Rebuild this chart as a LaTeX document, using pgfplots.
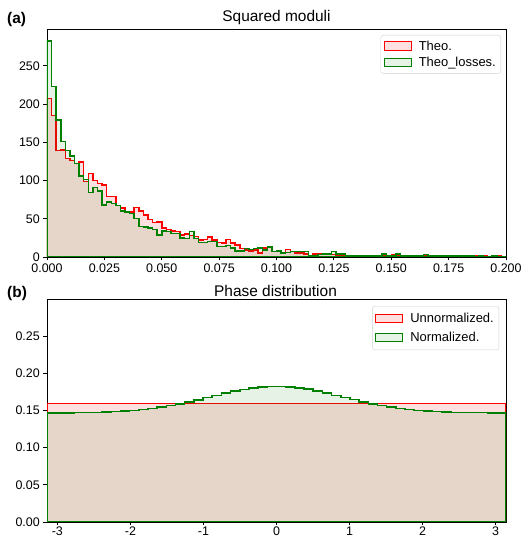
\documentclass[border=0pt]{standalone}
\usepackage{fontspec}
\setmainfont{Liberation Sans}
\usepackage{pgfplots}
\pgfplotsset{compat=1.18}
\usepackage{pgfplotstable}
\definecolor{mplgreen}{RGB}{0,128,0}

\pgfplotstableread{
x theo loss
0.000 207 282
0.002 185 223
0.004 139 179
0.006 140 151
0.008 129 139
0.010 126 132
0.012 122 122
0.014 124 106
0.016 99 101
0.018 109 84
0.020 100 91
0.022 96 86
0.024 94 68
0.026 79 72
0.028 79 70
0.030 67 67
0.032 64 60
0.034 59 59
0.036 59 57
0.038 65 50
0.040 60 40
0.042 55 39
0.044 49 38
0.046 45 36
0.048 46 29
0.050 38 34
0.052 36 33
0.054 34 31
0.056 33 31
0.058 29 25
0.060 30 24
0.062 28 33
0.064 27 24
0.066 22 19
0.068 23 19
0.070 26 20
0.072 22 20
0.074 19 14
0.076 18 14
0.078 23 15
0.080 18 12
0.082 16 8
0.084 11 8
0.086 9 11
0.088 8 10
0.090 9 11
0.092 5 12
0.094 12 9
0.096 13 13
0.098 7 7
0.100 7 8
0.102 5 5
0.104 10 6
0.106 7 7
0.108 5 7
0.110 5 7
0.112 4 7
0.114 2 2
0.116 4 2
0.118 4 3
0.120 4 4
0.122 3 4
0.124 3 7
0.126 2 4
0.128 1 4
0.130 2 1
0.132 2 2
0.134 2 1
0.136 1 1
0.138 2 1
0.140 2 1
0.142 1 1
0.144 1 1
0.146 2 4
0.148 1 1
0.150 3 1
0.152 1 4
0.154 1 1
0.156 1 1
0.158 2 2
0.160 2 2
0.162 1 1
0.164 1 3
0.166 1 2
0.168 1 1
0.170 1 1
0.172 1 1
0.174 0 2
0.176 1 1
0.178 1 1
0.180 0 1
0.182 0 1
0.184 0 1
0.186 1 0
0.188 0 1
0.190 1 0
0.192 0 0
0.194 0 1
0.196 1 0
0.198 0 0
0.200 0 0
}\topdata

\pgfplotstableread{
x unnorm norm
-3.14159 0.1594 0.1467
-3.01593 0.1594 0.1468
-2.89027 0.1594 0.1469
-2.76460 0.1594 0.1470
-2.63894 0.1594 0.1472
-2.51327 0.1594 0.1475
-2.38761 0.1594 0.1479
-2.26195 0.1594 0.1484
-2.13628 0.1594 0.1491
-2.01062 0.1594 0.1501
-1.88496 0.1594 0.1512
-1.75929 0.1594 0.1527
-1.63363 0.1594 0.1545
-1.50796 0.1594 0.1565
-1.38230 0.1594 0.1589
-1.25664 0.1594 0.1615
-1.13097 0.1594 0.1644
-1.00531 0.1594 0.1674
-0.87965 0.1594 0.1704
-0.75398 0.1594 0.1734
-0.62832 0.1594 0.1762
-0.50265 0.1594 0.1785
-0.37699 0.1594 0.1805
-0.25133 0.1594 0.1818
-0.12566 0.1594 0.1825
0.00000 0.1594 0.1826
0.12566 0.1594 0.1819
0.25133 0.1594 0.1806
0.37699 0.1594 0.1786
0.50265 0.1594 0.1763
0.62832 0.1594 0.1735
0.75398 0.1594 0.1705
0.87965 0.1594 0.1675
1.00531 0.1594 0.1645
1.13097 0.1594 0.1616
1.25664 0.1594 0.1590
1.38230 0.1594 0.1566
1.50796 0.1594 0.1546
1.63363 0.1594 0.1528
1.75929 0.1594 0.1513
1.88496 0.1594 0.1502
2.01062 0.1594 0.1492
2.13628 0.1594 0.1485
2.26195 0.1594 0.1480
2.38761 0.1594 0.1476
2.51327 0.1594 0.1473
2.63894 0.1594 0.1471
2.76460 0.1594 0.1470
2.89027 0.1594 0.1469
3.01593 0.1594 0.1468
3.14159 0.1594 0.1468
}\phasedata

\pgfplotsset{
  common/.style={
    scale only axis, anchor=south west,
    axis line style={line width=0.8bp, black},
    every tick/.style={line width=0.8bp, black},
    tick align=outside, tick pos=left, major tick length=3.5bp,
    ticklabel style={font=\fontsize{12.5}{14}\selectfont},
    xticklabel style={inner sep=1.5bp},
    yticklabel style={inner sep=1.5bp, xshift=-2bp},
    /pgf/number format/assume math mode=true,
    scaled ticks=false,
    legend cell align=left,
    legend style={anchor=north east, draw=black!18, rounded corners=2.5bp,
      font=\fontsize{13}{15}\selectfont, fill=white, inner xsep=3bp, inner ysep=3.5bp,
      /tikz/every odd column/.append style={column sep=5bp}},
    legend image code/.code={\draw[#1, line width=1bp, sharp corners] (0bp,-4.2bp) rectangle (27bp,4.2bp);},
  },
  redhist/.style={const plot, draw=red, line width=1.5bp, fill=red, fill opacity=0.12},
  greenhist/.style={const plot, draw=mplgreen, line width=1.5bp, fill=mplgreen, fill opacity=0.10},
}

\begin{document}
\begin{tikzpicture}
\useasboundingbox (0,0) rectangle (524bp,539bp);
\begin{axis}[common,
  at={(47bp,282bp)}, width=459bp, height=228bp,
  xmin=0, xmax=0.2, ymin=0, ymax=298,
  xtick={0,0.025,...,0.2001}, ytick={0,50,...,250},
  xticklabel style={/pgf/number format/.cd, fixed, fixed zerofill, precision=3, /tikz/yshift=-1.5bp},
  legend style={at={(1,1)}, xshift=-5bp, yshift=-6bp, row sep=1.5bp},
]
\addplot[redhist] table[x=x, y=theo]{\topdata} \closedcycle;
\addlegendentry{Theo.}
\addplot[greenhist] table[x=x, y=loss]{\topdata} \closedcycle;
\addlegendentry{Theo\_losses.}
\end{axis}

\begin{axis}[common,
  at={(47bp,17bp)}, width=459bp, height=223bp,
  xmin=-3.14159, xmax=3.14159, ymin=0, ymax=0.30,
  xtick={-3,-2,...,3}, ytick={0,0.05,...,0.251},
  yticklabel style={/pgf/number format/.cd, fixed, fixed zerofill, precision=2},
  legend style={at={(1,1)}, xshift=-7bp, yshift=-7bp, row sep=4bp, inner ysep=5bp},
]
\addplot[redhist, line width=1.9bp] table[x=x, y=unnorm]{\phasedata} \closedcycle;
\addlegendentry{Unnormalized.}
\addplot[greenhist] table[x=x, y=norm]{\phasedata} \closedcycle;
\addlegendentry{Normalized.}
\end{axis}

\node[anchor=base, inner sep=0, font=\fontsize{15.5}{18}\selectfont] at (276.5bp,517bp) {Squared moduli};
\node[anchor=base west, inner sep=0, font=\bfseries\fontsize{15.5}{18}\selectfont] at (7bp,515bp) {(a)};
\node[anchor=base, inner sep=0, font=\fontsize{15.5}{18}\selectfont] at (275.5bp,242.3bp) {Phase distribution};
\node[anchor=base west, inner sep=0, font=\bfseries\fontsize{15.5}{18}\selectfont] at (7bp,241.7bp) {(b)};
\end{tikzpicture}
\end{document}
